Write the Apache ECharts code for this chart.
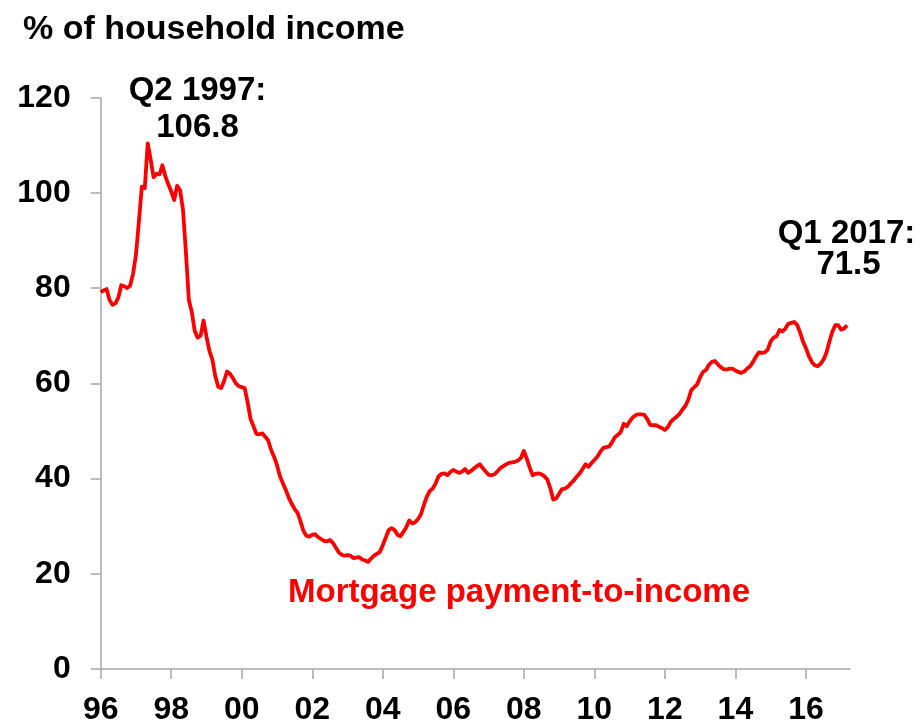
<!DOCTYPE html>
<html>
<head>
<meta charset="utf-8">
<script src="https://cdn.jsdelivr.net/npm/echarts@6/dist/echarts.min.js"></script>
<style>
html,body{margin:0;padding:0;background:#fff;}
#c{width:922px;height:720px;}
</style>
</head>
<body>
<div id="c"></div>
<script>
// Monthly series, Jan 1996 .. Mar 2017
const startYear = 1996;
const mortgageToIncome = [
  79.2, 79.5, 79.8, 77.5, 76.5, 76.8, 78.0, 80.6, 80.4, 80.0, 80.5, 83.0,
  87.0, 94.0, 101.3, 101.0, 110.4, 107.0, 103.3, 104.0, 103.9, 105.8, 103.5, 101.8,
  100.3, 98.5, 101.5, 100.6, 96.5, 87.5, 77.5, 75.0, 71.0, 69.6, 70.0, 73.2,
  69.8, 66.8, 65.0, 61.5, 59.3, 59.0, 60.5, 62.5, 62.0, 61.1, 60.0, 59.4,
  59.2, 59.0, 56.0, 52.5, 51.0, 49.4, 49.3, 49.5, 48.8, 48.0, 46.0, 44.6,
  42.8, 40.5, 39.0, 37.6, 36.0, 34.7, 33.6, 32.8, 31.0, 29.0, 28.0, 27.8,
  28.2, 28.3, 27.7, 27.3, 26.9, 26.8, 27.1, 26.5, 25.5, 24.5, 24.0, 23.8,
  23.9, 23.8, 23.3, 23.4, 23.5, 23.0, 22.8, 22.5, 23.2, 23.8, 24.2, 24.6,
  26.0, 27.6, 29.2, 29.6, 29.2, 28.2, 27.9, 28.8, 29.8, 31.2, 30.6, 30.8,
  31.5, 32.5, 34.5, 36.2, 37.4, 37.9, 39.0, 40.5, 41.0, 41.1, 40.7, 41.4,
  41.8, 41.5, 41.2, 41.5, 42.0, 41.2, 41.6, 42.1, 42.6, 43.0, 42.2, 41.5,
  40.8, 40.7, 40.9, 41.5, 42.2, 42.6, 43.0, 43.3, 43.4, 43.5, 43.8, 44.3,
  45.8, 44.2, 42.3, 40.7, 41.0, 41.1, 40.9, 40.5, 39.8, 38.0, 35.6, 35.8,
  36.8, 37.8, 37.9, 38.3, 39.0, 39.6, 40.4, 41.1, 42.0, 43.0, 42.5, 43.2,
  43.9, 44.6, 45.6, 46.4, 46.6, 46.7, 47.6, 48.7, 49.2, 49.8, 51.5, 51.0,
  52.0, 52.8, 53.3, 53.5, 53.5, 53.4, 52.5, 51.3, 51.2, 51.2, 50.9, 50.6,
  50.2, 50.8, 51.9, 52.5, 53.0, 53.6, 54.5, 55.3, 56.6, 58.6, 59.2, 59.8,
  61.3, 62.4, 62.8, 63.9, 64.5, 64.7, 64.0, 63.4, 63.0, 62.9, 63.1, 63.1,
  62.7, 62.4, 62.2, 62.5, 63.1, 63.6, 64.5, 65.6, 66.5, 66.4, 66.5, 67.1,
  68.8, 69.6, 69.9, 71.2, 70.9, 71.5, 72.5, 72.7, 72.9, 72.3, 70.7, 68.8,
  67.4, 65.7, 64.5, 63.8, 63.6, 64.1, 65.0, 66.5, 68.8, 70.9, 72.2, 72.2,
  71.3, 71.5, 72.2
];
const xTickYears = [1996, 1998, 2000, 2002, 2004, 2006, 2008, 2010, 2012, 2014, 2016];
const xTickLabels = ['96', '98', '00', '02', '04', '06', '08', '10', '12', '14', '16'];
const yTicks = [0, 20, 40, 60, 80, 100, 120];
const titleText = '% of household income';
const seriesName = 'Mortgage payment-to-income';
const peakNote = ['Q2 1997:', '106.8'];
const lastNote = ['Q1 2017:', '71.5'];

const FONT = '"Liberation Sans", Arial, sans-serif';
const AXIS_COLOR = '#a6a6a6';

const chart = echarts.init(document.getElementById('c'), null, {renderer: 'canvas'});

const lineData = mortgageToIncome.map((v, i) => [startYear + i / 12, v]);

function txt(text, x, y, size, color, align) {
  return {
    type: 'text', x: x, y: y, silent: true,
    style: {
      text: text, fill: color, align: align || 'center', verticalAlign: 'middle',
      font: 'bold ' + size + 'px ' + FONT
    }
  };
}

chart.setOption({
  animation: false,
  backgroundColor: '#ffffff',
  grid: {left: 100.7, right: 72, top: 97.7, bottom: 51, containLabel: false, outerBoundsMode: 'none'},
  xAxis: {
    type: 'value',
    min: 1996,
    max: 2017.25,
    axisLine: {show: true, onZero: false, lineStyle: {color: AXIS_COLOR, width: 1.5}},
    axisTick: {show: true, length: 10, customValues: xTickYears, lineStyle: {color: AXIS_COLOR, width: 1.5}},
    axisLabel: {
      customValues: xTickYears,
      formatter: function (v) {
        const idx = xTickYears.indexOf(Math.round(v));
        return idx >= 0 ? xTickLabels[idx] : '';
      },
      fontSize: 32, fontWeight: 'bold', fontFamily: FONT, color: '#000', margin: 25
    },
    splitLine: {show: false}
  },
  yAxis: {
    type: 'value',
    min: yTicks[0],
    max: yTicks[yTicks.length - 1],
    interval: 20,
    axisLine: {show: true, lineStyle: {color: AXIS_COLOR, width: 1.5}},
    axisTick: {show: true, length: 10, lineStyle: {color: AXIS_COLOR, width: 1.5}},
    axisLabel: {fontSize: 32, fontWeight: 'bold', fontFamily: FONT, color: '#000', margin: 30},
    splitLine: {show: false}
  },
  series: [{
    name: seriesName,
    type: 'line',
    data: lineData,
    showSymbol: false,
    symbol: 'none',
    lineStyle: {color: '#ff0000', width: 3.8, join: 'round'},
    silent: true
  }],
  graphic: [
    txt(titleText, 23, 29.5, 34, '#000', 'left'),
    txt(peakNote[0], 197.5, 91, 33, '#000'),
    txt(peakNote[1], 197.5, 128, 33, '#000'),
    txt(lastNote[0], 846.5, 234, 33, '#000'),
    txt(lastNote[1], 848.5, 265, 33, '#000'),
    txt(seriesName, 519, 593, 33, '#ff0000')
  ]
});
</script>
</body>
</html>
